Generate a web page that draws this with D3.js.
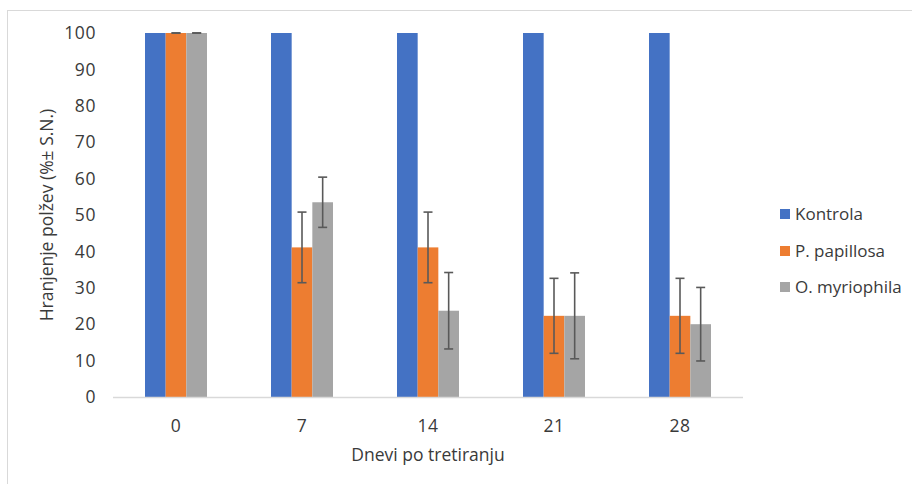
<!DOCTYPE html>
<html><head><meta charset="utf-8">
<script src="https://cdn.jsdelivr.net/npm/d3@7"></script>
<style>body{margin:0;background:#fff;} svg{display:block;} text{font-family:"Open Sans","Liberation Sans",sans-serif;fill:#3a3a3a;}</style>
</head><body>
<svg id="c" width="912" height="484"></svg>
<script>
const categories = ["0","7","14","21","28"];
const seriesNames = ["Kontrola","P. papillosa","O. myriophila"];
const kontrola = [100,100,100,100,100];
const papillosa = [100,41.1,41.1,22.3,22.3];
const myriophila = [100,53.5,23.7,22.3,20.0];
const kontrolaErr = [null,null,null,null,null];
const papillosaErr = [0,9.7,9.7,10.3,10.3];
const myriophilaErr = [0,6.9,10.5,11.8,10.1];
const yTicks = [0,10,20,30,40,50,60,70,80,90,100];
const colors = ["#4472C4","#ED7D31","#A5A5A5"];

const values = [kontrola,papillosa,myriophila];
const errs = [kontrolaErr,papillosaErr,myriophilaErr];

const svg = d3.select("#c");
svg.append("rect").attr("x",7.5).attr("y",10.5).attr("width",960).attr("height",500)
  .attr("fill","none").attr("stroke","#d9d9d9").attr("stroke-width",1);

const pL=113, pR=743, pT=33, pB=397;
const x = d3.scaleBand().domain(categories).range([pL,pR]).paddingInner(0.508).paddingOuter(0.254);
const xs = d3.scaleBand().domain(d3.range(3)).range([0,x.bandwidth()]);
const y = d3.scaleLinear().domain([0,100]).range([pB,pT]);

// y tick labels
svg.append("g").selectAll("text").data(yTicks).join("text")
  .attr("x",96).attr("y",d=>y(d)).attr("dy","0.35em").attr("text-anchor","end")
  .style("font-size","17.5px").style("letter-spacing","0.6px").text(d=>d);

// bars
values.forEach((vals,si)=>{
  svg.append("g").selectAll("rect").data(vals).join("rect")
    .attr("x",(d,i)=>x(categories[i])+xs(si))
    .attr("width",xs.bandwidth())
    .attr("y",d=>y(d)).attr("height",d=>pB-y(d))
    .attr("fill",colors[si]);
});

// axis line
svg.append("line").attr("x1",pL).attr("x2",pR).attr("y1",pB+0.5).attr("y2",pB+0.5)
  .attr("stroke","#d9d9d9").attr("stroke-width",1.5);

// error bars
values.forEach((vals,si)=>{
  const g = svg.append("g").attr("stroke","#595959").attr("stroke-width",1.6);
  vals.forEach((v,i)=>{
    const e = errs[si][i];
    if(e===null) return;
    const cx = x(categories[i])+xs(si)+xs.bandwidth()/2;
    const y1=y(v+e), y2=y(v-e);
    g.append("line").attr("x1",cx).attr("x2",cx).attr("y1",y1).attr("y2",y2);
    g.append("line").attr("x1",cx-4.5).attr("x2",cx+4.5).attr("y1",y1).attr("y2",y1);
    g.append("line").attr("x1",cx-4.5).attr("x2",cx+4.5).attr("y1",y2).attr("y2",y2);
  });
});

// x tick labels
svg.append("g").selectAll("text").data(categories).join("text")
  .attr("x",d=>x(d)+x.bandwidth()/2).attr("y",432).attr("text-anchor","middle")
  .style("font-size","17.5px").style("letter-spacing","0.6px").text(d=>d);

// axis titles
svg.append("text").attr("x",(pL+pR)/2).attr("y",461).attr("text-anchor","middle")
  .style("font-size","17.5px").text("Dnevi po tretiranju");
svg.append("text").attr("transform",`translate(53,${(pT+pB)/2}) rotate(-90)`)
  .attr("text-anchor","middle").style("font-size","17.5px").text("Hranjenje polžev (%± S.N.)");

// legend
const ly=[214,251,287];
const lg = svg.append("g");
seriesNames.forEach((n,i)=>{
  lg.append("rect").attr("x",780).attr("y",ly[i]-5).attr("width",10).attr("height",10).attr("fill",colors[i]);
  lg.append("text").attr("x",795).attr("y",ly[i]).attr("dy","0.35em").style("font-size","17px").text(n);
});
</script>
</body></html>
